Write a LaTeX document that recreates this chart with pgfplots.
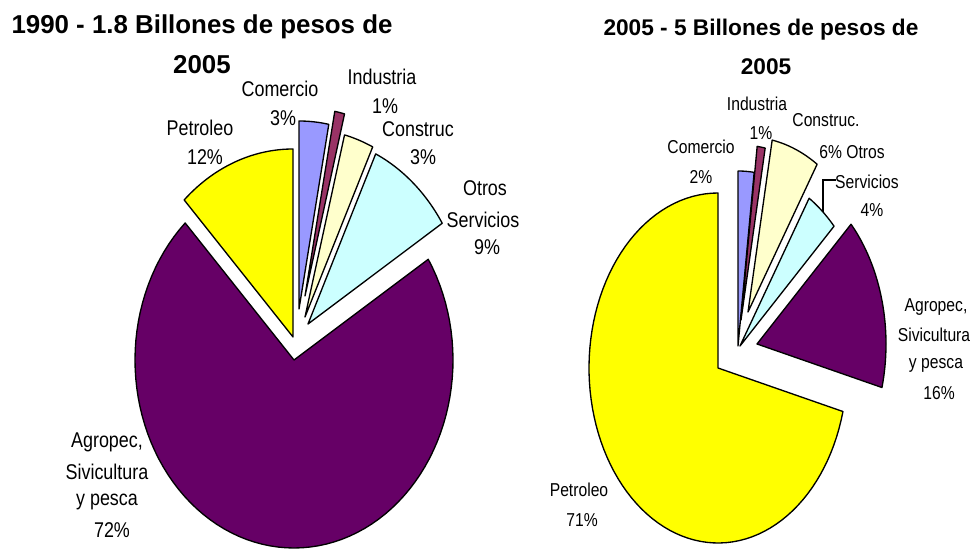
\documentclass[border=0pt]{standalone}
\usepackage{pgfplots}
\pgfplotsset{compat=1.18}
\usepackage{fontspec}
\setmainfont{Liberation Sans}
\usepackage{graphicx}
\definecolor{cComercio}{HTML}{9999FF}
\definecolor{cIndustria}{HTML}{993366}
\definecolor{cConstruc}{HTML}{FFFFCC}
\definecolor{cOtros}{HTML}{CCFFFF}
\definecolor{cAgropec}{HTML}{660066}
\definecolor{cPetroleo}{HTML}{FFFF00}
% \slice{cumulative start %}{share %}{vertex x px}{vertex y px from top}{rx}{ry}{colour}
\newcommand{\slice}[7]{%
  \pgfmathsetmacro\angA{90-3.6*(#1)}%
  \pgfmathsetmacro\angB{90-3.6*((#1)+(#2))}%
  \pgfmathsetmacro\vyy{550-(#4)}%
  \edef\tmp{\noexpand\addplot[draw=black, line width=1pt, line join=round, fill=#7, domain=\angB:\angA, samples=90] ({#3+#5*cos(x)},{\vyy+#6*sin(x)}) -- (axis cs:#3,\vyy) -- cycle;}%
  \tmp}
\newcommand{\lblL}[1]{\scalebox{0.84}[1]{\fontsize{16}{18}\selectfont #1}}
\newcommand{\lblR}[1]{\scalebox{0.84}[1]{\fontsize{14}{16}\selectfont #1}}
\begin{document}
\begin{tikzpicture}
\begin{axis}[width=733.5pt, height=412.5pt, scale only axis,
  xmin=0, xmax=978, ymin=0, ymax=550, hide axis, clip=false]
\path (rel axis cs:0,0) rectangle (rel axis cs:1,1);
% ---- 1990 pie: Comercio 3, Industria 1, Construc 3, Otros 9, Agropec 72, Petroleo 12
\slice{0}{3}{299}{309}{159}{188}{cComercio}
\slice{3}{1}{305}{296}{159}{188}{cIndustria}
\slice{4}{3}{305}{317}{159}{188}{cConstruc}
\slice{7}{9}{308}{324}{159}{188}{cOtros}
\slice{16}{72}{294}{360}{159}{188}{cAgropec}
\slice{88}{12}{293}{337}{159}{188}{cPetroleo}
% ---- 2005 pie: Comercio 2, Industria 1, Construc 6, Otros 4, Agropec 16, Petroleo 71
\slice{0}{2}{738}{346}{129}{175}{cComercio}
\slice{2}{1}{741}{320}{129}{175}{cIndustria}
\slice{3}{6}{748}{312}{129}{175}{cConstruc}
\slice{9}{4}{740}{346}{129}{175}{cOtros}
\slice{13}{16}{757}{344}{129}{175}{cAgropec}
\slice{29}{71}{718}{368}{129}{175}{cPetroleo}
% titles
\node[font=\fontsize{19.4}{22}\selectfont\bfseries] at (axis cs:202,523) {1990 - 1.8 Billones de pesos de};
\node[font=\fontsize{19.4}{22}\selectfont\bfseries] at (axis cs:202,485) {2005};
\node[font=\fontsize{17}{20}\selectfont\bfseries] at (axis cs:761,520) {2005 - 5 Billones de pesos de};
\node[font=\fontsize{17}{20}\selectfont\bfseries] at (axis cs:766,483) {2005};
% left labels
\node at (axis cs:280,461) {\lblL{Comercio}};
\node at (axis cs:283,432) {\lblL{3\%}};
\node at (axis cs:382,473) {\lblL{Industria}};
\node at (axis cs:385,444) {\lblL{1\%}};
\node at (axis cs:418,421) {\lblL{Construc}};
\node at (axis cs:423,393) {\lblL{3\%}};
\node at (axis cs:485,362) {\lblL{Otros}};
\node at (axis cs:483,330) {\lblL{Servicios}};
\node at (axis cs:487,303) {\lblL{9\%}};
\node at (axis cs:200,422) {\lblL{Petroleo}};
\node at (axis cs:205,393) {\lblL{12\%}};
\node at (axis cs:107,108) {\lblL{Agropec,}};
\node at (axis cs:107,78) {\lblL{Sivicultura}};
\node at (axis cs:107,48) {\lblL{y pesca}};
\node at (axis cs:112,20) {\lblL{72\%}};
% right labels
\node at (axis cs:757,446) {\lblR{Industria}};
\node at (axis cs:761,417) {\lblR{1\%}};
\node at (axis cs:826,430) {\lblR{Construc.}};
\node at (axis cs:852,398) {\lblR{6\% Otros}};
\node at (axis cs:701,403) {\lblR{Comercio}};
\node at (axis cs:701,373) {\lblR{2\%}};
\node at (axis cs:867,368) {\lblR{Servicios}};
\node at (axis cs:872,340) {\lblR{4\%}};
\draw[black, line width=0.8pt] (axis cs:836,370) -- (axis cs:823,370) -- (axis cs:823,338);
\node at (axis cs:936,243) {\lblR{Agropec,}};
\node at (axis cs:934,215) {\lblR{Sivicultura}};
\node at (axis cs:936,185) {\lblR{y pesca}};
\node at (axis cs:939,157) {\lblR{16\%}};
\node at (axis cs:579,60) {\lblR{Petroleo}};
\node at (axis cs:582,30) {\lblR{71\%}};
\end{axis}
\end{tikzpicture}
\end{document}
